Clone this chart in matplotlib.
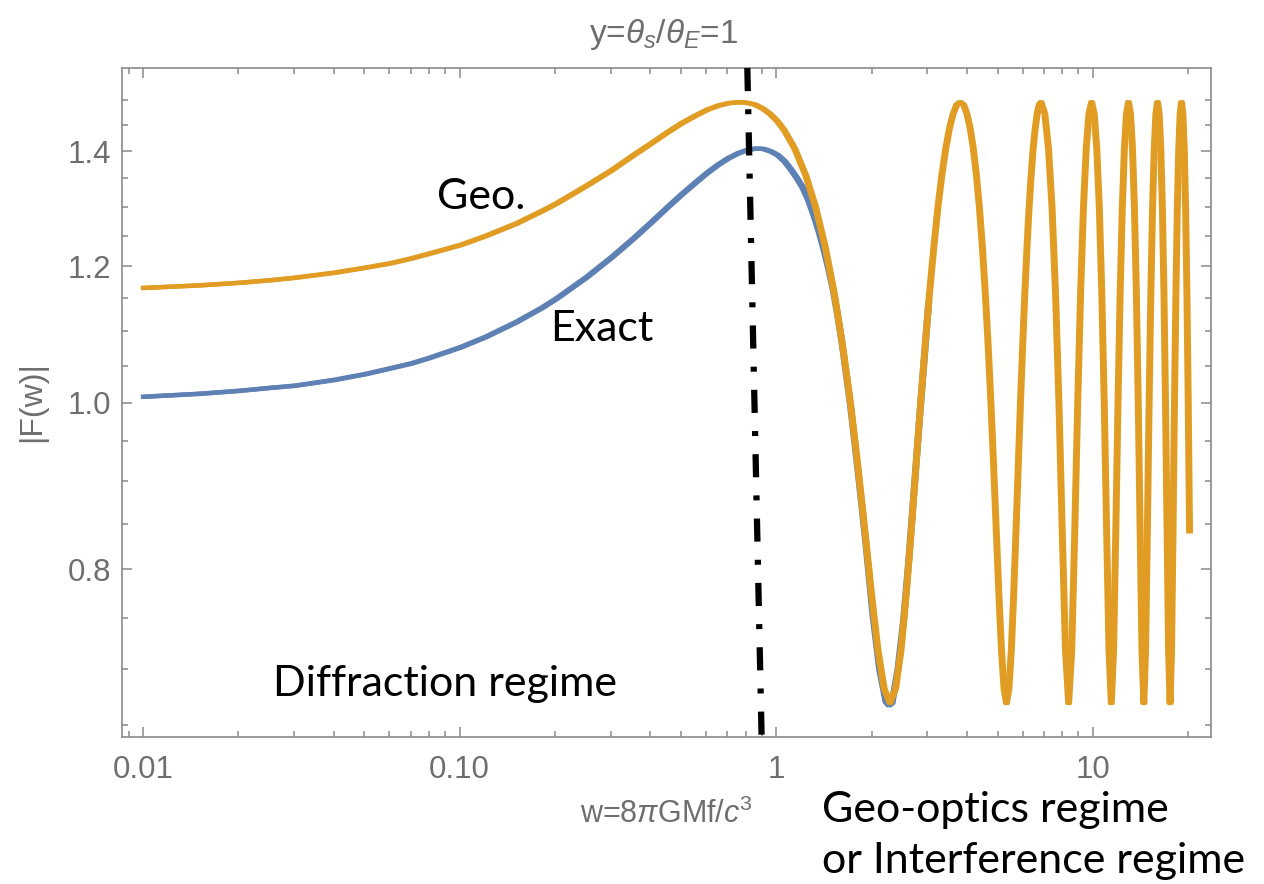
import matplotlib
matplotlib.use('Agg')
import matplotlib.pyplot as plt
from matplotlib import transforms
from matplotlib.ticker import FixedLocator, NullFormatter

# |F(w)| for a point-mass lens at y = 1: exact wave-optics curve and geometric-optics curve
exact_w = [0.01, 0.015, 0.02, 0.025, 0.03, 0.04, 0.05, 0.06, 0.07, 0.08, 0.1, 0.12, 0.15, 0.18,
           0.2, 0.25, 0.3, 0.35, 0.4, 0.45, 0.5, 0.55, 0.6, 0.65, 0.7, 0.75, 0.8, 0.85, 0.9, 0.95,
           1.0, 1.05, 1.1, 1.15, 1.2, 1.25, 1.3, 1.35, 1.4, 1.45, 1.5, 1.55, 1.6, 1.7, 1.8, 1.9,
           2.0, 2.1, 2.2, 2.25, 2.3, 2.4, 2.5, 2.6, 2.8, 3.0]
exact_f = [1.008, 1.012, 1.016, 1.020, 1.023, 1.031, 1.039, 1.047, 1.054, 1.062, 1.077, 1.092, 1.114, 1.135,
           1.149, 1.183, 1.215, 1.245, 1.273, 1.299, 1.322, 1.342, 1.360, 1.375, 1.387, 1.396, 1.402, 1.405, 1.4045, 1.400,
           1.393, 1.382, 1.367, 1.351, 1.334, 1.312, 1.286, 1.258, 1.228, 1.196, 1.162, 1.123, 1.082, 0.996, 0.909, 0.829,
           0.753, 0.700, 0.670, 0.667, 0.669, 0.700, 0.747, 0.812, 0.972, 1.142]

geo_w = [0.01, 0.015, 0.02, 0.025, 0.03, 0.04, 0.05, 0.06, 0.07, 0.08, 0.1, 0.12, 0.15, 0.18,
         0.2, 0.25, 0.3, 0.35, 0.4, 0.45, 0.5, 0.55, 0.6, 0.65, 0.7, 0.755, 0.8, 0.85, 0.9, 0.95, 1.0, 1.05,
         1.133, 1.227, 1.321, 1.416, 1.510, 1.604, 1.699, 1.793, 1.888, 1.982,
         2.076, 2.171, 2.265, 2.360, 2.454, 2.548, 2.643, 2.737, 2.831, 2.926,
         3.020, 3.115, 3.209, 3.303, 3.398, 3.492, 3.586, 3.681, 3.775, 3.870,
         3.964, 4.058, 4.153, 4.247, 4.341, 4.436, 4.530, 4.625, 4.719, 4.813,
         4.908, 5.002, 5.096, 5.191, 5.285, 5.380, 5.474, 5.568, 5.663, 5.757,
         5.851, 5.946, 6.040, 6.135, 6.229, 6.323, 6.418, 6.512, 6.607, 6.701, 6.795,
         6.984, 7.173, 7.362, 7.550, 7.739, 7.928, 8.117, 8.305, 8.494, 8.683,
         8.872, 9.060, 9.249, 9.438, 9.627, 9.815, 10.004, 10.193, 10.382, 10.570,
         10.759, 10.948, 11.137, 11.325, 11.514, 11.703, 11.892, 12.080, 12.269, 12.458,
         12.647, 12.835, 13.024, 13.213, 13.402, 13.591, 13.779, 13.968, 14.157, 14.346,
         14.534, 14.723, 14.912, 15.101, 15.289, 15.478, 15.667, 15.856, 16.044, 16.233,
         16.422, 16.611, 16.799, 16.988, 17.177, 17.366, 17.554, 17.743, 17.932, 18.121,
         18.309, 18.498, 18.687, 18.876, 19.064, 19.253, 19.442, 19.631, 19.819, 20.008]
geo_f = [1.166, 1.170, 1.174, 1.178, 1.182, 1.190, 1.198, 1.205, 1.213, 1.221, 1.235, 1.250, 1.271, 1.292,
         1.305, 1.337, 1.365, 1.392, 1.415, 1.436, 1.454, 1.468, 1.480, 1.488, 1.493, 1.495, 1.494, 1.490, 1.482, 1.471, 1.457, 1.440,
         1.405, 1.356, 1.298, 1.231, 1.158, 1.080, 1.000, 0.919, 0.842, 0.773,
         0.718, 0.682, 0.669, 0.682, 0.718, 0.773, 0.842, 0.919, 1.000, 1.080,
         1.158, 1.231, 1.298, 1.356, 1.405, 1.444, 1.472, 1.490, 1.495, 1.490,
         1.472, 1.444, 1.405, 1.356, 1.298, 1.231, 1.158, 1.080, 1.000, 0.919,
         0.842, 0.773, 0.718, 0.682, 0.669, 0.682, 0.718, 0.773, 0.842, 0.919,
         1.000, 1.080, 1.158, 1.231, 1.298, 1.356, 1.405, 1.444, 1.472, 1.490, 1.495,
         1.472, 1.405, 1.298, 1.158, 1.000, 0.842, 0.718, 0.669, 0.718, 0.842,
         1.000, 1.158, 1.298, 1.405, 1.472, 1.495, 1.472, 1.405, 1.298, 1.158,
         1.000, 0.842, 0.718, 0.669, 0.718, 0.842, 1.000, 1.158, 1.298, 1.405,
         1.472, 1.495, 1.472, 1.405, 1.298, 1.158, 1.000, 0.842, 0.718, 0.669,
         0.718, 0.842, 1.000, 1.158, 1.298, 1.405, 1.472, 1.495, 1.472, 1.405,
         1.298, 1.158, 1.000, 0.842, 0.718, 0.669, 0.718, 0.842, 1.000, 1.158,
         1.298, 1.405, 1.472, 1.495, 1.472, 1.405, 1.298, 1.158, 1.000, 0.842]

# Einstein-radius crossing marked by a hand-drawn dash-dot line (top, bottom)
split_w = [0.81, 0.90]

x_major = [0.01, 0.1, 1, 10]
x_major_labels = ['0.01', '0.10', '1', '10']
x_minor = [0.009, 0.02, 0.03, 0.04, 0.05, 0.06, 0.07, 0.08, 0.09,
           0.2, 0.3, 0.4, 0.5, 0.6, 0.7, 0.8, 0.9,
           2, 3, 4, 5, 6, 7, 8, 9, 20]
y_major = [0.8, 1.0, 1.2, 1.4]
y_major_labels = ['0.8', '1.0', '1.2', '1.4']
y_minor = [0.65, 0.7, 0.75, 0.85, 0.9, 0.95, 1.05, 1.1, 1.15, 1.25, 1.3, 1.35, 1.45, 1.5]

blue = '#5e81b5'
orange = '#e19c24'
gray = '#6e6e6e'
frame = '#8a8a8a'

plt.rcParams['font.family'] = ['Liberation Sans', 'DejaVu Sans']
plt.rcParams['mathtext.fontset'] = 'custom'
plt.rcParams['mathtext.rm'] = 'Liberation Sans'
plt.rcParams['mathtext.it'] = 'Liberation Sans:italic'

W, H = 1264, 884
fig = plt.figure(figsize=(W / 100, H / 100), dpi=100)
ax = fig.add_axes([122 / W, 1 - 737 / H, (1211 - 122) / W, (737 - 68) / H])
ax.set_xscale('log')
ax.set_yscale('log')
ax.set_xlim(0.00858, 23.6)
ax.set_ylim(0.6393, 1.565)

# second copy nudged sideways so the steep parts look heavier, as in the printed figure
nudge = transforms.offset_copy(ax.transData, fig=fig, x=2.5, y=0, units='dots')
for tr in (ax.transData, nudge):
    ax.plot(exact_w, exact_f, color=blue, lw=3.2, transform=tr, zorder=2)
for tr in (ax.transData, nudge):
    ax.plot(geo_w, geo_f, color=orange, lw=3.2, transform=tr, zorder=3)

xa = transforms.blended_transform_factory(ax.transData, ax.transAxes)
ax.plot(split_w, [1.0, -0.015], transform=xa, color='black', lw=4.5,
        dashes=(3.7, 2.9, 0.8, 2.9), clip_on=False, zorder=5)

ax.xaxis.set_major_locator(FixedLocator(x_major))
ax.xaxis.set_minor_locator(FixedLocator(x_minor))
ax.set_xticklabels(x_major_labels)
ax.xaxis.set_minor_formatter(NullFormatter())
ax.yaxis.set_major_locator(FixedLocator(y_major))
ax.yaxis.set_minor_locator(FixedLocator(y_minor))
ax.set_yticklabels(y_major_labels)
ax.yaxis.set_minor_formatter(NullFormatter())

ax.tick_params(which='both', direction='in', top=True, right=True, color=frame, width=1.1)
ax.tick_params(which='major', length=7.5, labelsize=22.5, labelcolor=gray)
ax.tick_params(which='minor', length=4.5)
ax.tick_params(axis='x', which='major', pad=13)
ax.tick_params(axis='y', which='major', pad=8)
for sp in ax.spines.values():
    sp.set_color(frame)
    sp.set_linewidth(1.2)

fig.text(664 / W, 1 - 34 / H, r'y=$\mathit{\theta}_{\mathit{s}}/\mathit{\theta}_{\mathit{E}}$=1',
         ha='center', va='center', fontsize=24, color=gray)
fig.text(666 / W, 1 - 814 / H, r'w=8$\mathit{\pi}$GMf/$\mathit{c}^{3}$',
         ha='center', va='center', fontsize=22, color=gray)
fig.text(32 / W, 1 - 402 / H, '|F(w)|', rotation=90, ha='center', va='center',
         fontsize=23, color=gray)

note = dict(color='black', fontsize=31, family=['Lato', 'DejaVu Sans'], va='baseline', ha='left')
fig.text(437 / W, 1 - 209 / H, 'Geo.', **note)
fig.text(550 / W, 1 - 341 / H, 'Exact', **note)
fig.text(273 / W, 1 - 696 / H, 'Diffraction regime', **note)
fig.text(822 / W, 1 - 822 / H, 'Geo-optics regime', **note)
fig.text(822 / W, 1 - 873 / H, 'or Interference regime', **note)

fig.savefig('out.png', dpi=100)
